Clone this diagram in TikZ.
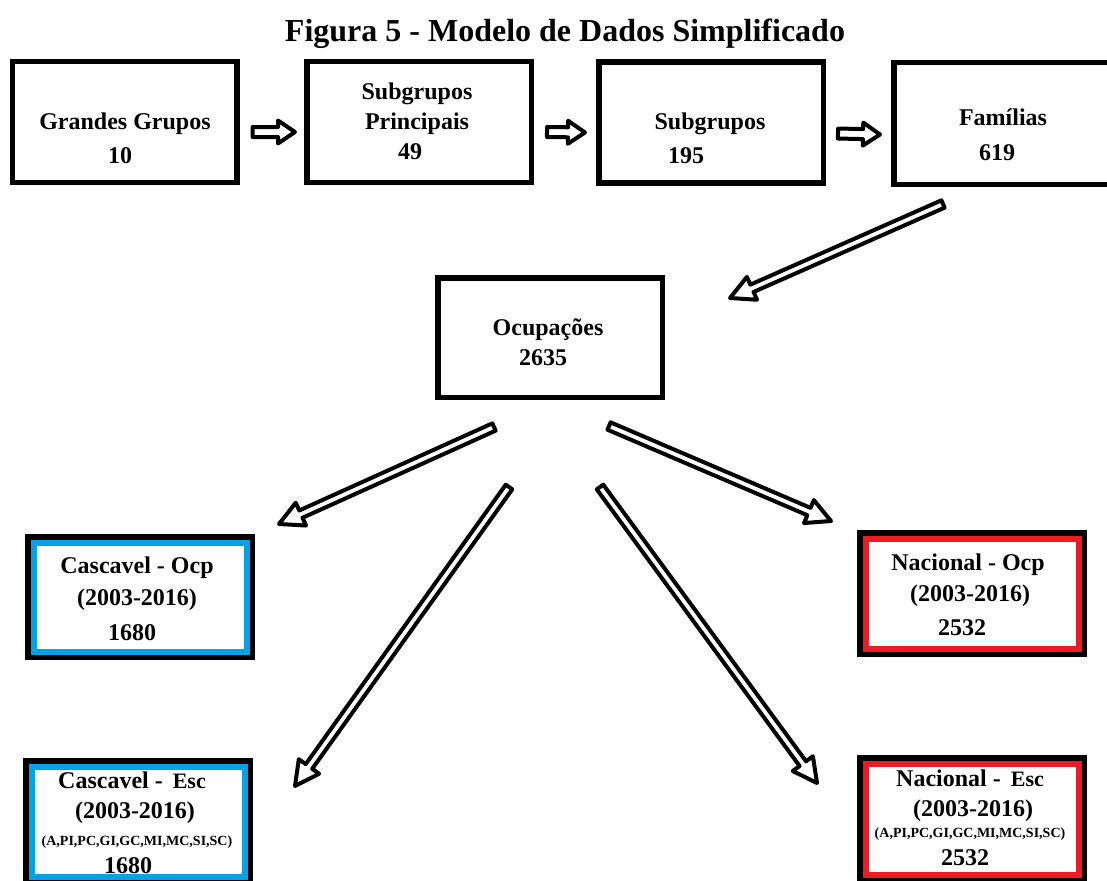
\documentclass[tikz,border=0pt]{standalone}
\usepackage{fontspec}
\setmainfont{Liberation Serif}
\usetikzlibrary{calc}

\definecolor{paintblue}{RGB}{0,162,232}
\definecolor{paintred}{RGB}{237,28,36}

% Slightly smaller type for the "Esc" labels
\newcommand\escfont{\fontsize{22}{26}\selectfont}

% Outlined "hollow" arrow from #2 to #3:
% #4 = half shaft width, #5 = half head width, #6 = head length
\newcommand\hollowarrow[6][harrow]{%
  \coordinate (hb) at ($(#3)!#6!(#2)$);
  \draw[#1]
    ($(#2)!#4!90:(#3)$) --
    ($(hb)!#4!90:(#3)$) --
    ($(hb)!#5!90:(#3)$) --
    (#3) --
    ($(hb)!#5!-90:(#3)$) --
    ($(hb)!#4!-90:(#3)$) --
    ($(#2)!#4!-90:(#3)$) -- cycle;
}

\begin{document}
\begin{tikzpicture}[x=1pt,y=-1pt,
  box/.style={draw=black, line width=5.5pt, fill=white, inner sep=0pt,
              minimum width=224.5pt, minimum height=121pt},
  cbox/.style={box, path picture={
      \draw[line width=6pt, #1]
        ([shift={(5.75pt,-5.75pt)}]path picture bounding box.north west)
        rectangle
        ([shift={(-5.75pt,5.75pt)}]path picture bounding box.south east);}},
  txt/.style={font=\fontsize{24}{28}\selectfont\bfseries, inner sep=0pt, anchor=base},
  small/.style={font=\fontsize{14}{16}\selectfont\bfseries, inner sep=0pt, anchor=base},
  title/.style={font=\fontsize{32}{38}\selectfont\bfseries, inner sep=0pt, anchor=base},
  harrow/.style={draw=black, fill=white, line width=4pt, line join=round},
]
\useasboundingbox (0,0) rectangle (1107,880);
\clip (0,0) rectangle (1107,880);
\fill[white] (0,0) rectangle (1107,880);

% Title
\node[title] (ttl) at (565,42) {Figura 5 - Modelo de Dados Simplificado};

% Upper row of boxes
\node[box, minimum height=120.5pt] (gg)  at (124.5,122)   {};
\node[box, minimum height=120.5pt] (sp)  at (419,122)     {};
\node[box] (sg)  at (711,122.5)   {};
\node[box, minimum height=121.5pt] (fam) at (1006,123.5)  {};

\node[txt] (gg1) at (125,129) {Grandes Grupos};
\node[txt] (gg2) at (120,163) {10};
\node[txt] (sp1) at (417,100) {Subgrupos};
\node[txt] (sp2) at (417,129) {Principais};
\node[txt] (sp3) at (410,159) {49};
\node[txt] (sg1) at (710,129) {Subgrupos};
\node[txt] (sg2) at (686,163) {195};
\node[txt] (fa1) at (1003,125) {Famílias};
\node[txt] (fa2) at (997,160) {619};

% Middle box
\node[box, minimum height=119.5pt] (ocu) at (550,337.5) {};
\node[txt] (oc1) at (548,335) {Ocupações};
\node[txt] (oc2) at (543,365) {2635};

% Lower boxes
\node[cbox=paintblue, minimum height=120.5pt] (co) at (140,597) {};
\node[cbox=paintred,  minimum height=121.5pt] (no) at (972,593.5) {};
\node[cbox=paintblue, minimum height=121.5pt] (ce) at (138,821.5) {};
\node[cbox=paintred,  minimum height=122.5pt] (ne) at (972,819) {};

\node[txt] (co1) at (137,573) {Cascavel - Ocp};
\node[txt] (co2) at (137,605) {(2003-2016)};
\node[txt] (co3) at (132,640) {1680};

\node[txt] (no1) at (968,570) {Nacional - Ocp};
\node[txt] (no2) at (970,601) {(2003-2016)};
\node[txt] (no3) at (962,635) {2532};

\node[txt] (ce1) at (132,788) {Cascavel -\, {\escfont Esc}};
\node[txt] (ce2) at (135,818) {(2003-2016)};
\node[small] (ce3) at (137,845) {(A,PI,PC,GI,GC,MI,MC,SI,SC)};
\node[txt] (ce4) at (128,873) {1680};

\node[txt] (ne1) at (970,786) {Nacional -\, {\escfont Esc}};
\node[txt] (ne2) at (973,816) {(2003-2016)};
\node[small] (ne3) at (970,837) {(A,PI,PC,GI,GC,MI,MC,SI,SC)};
\node[txt] (ne4) at (965,865) {2532};

% Arrows along the upper row
\hollowarrow{$(gg.east)+(13,10)$}{$(sp.west)+(-9,10)$}{5pt}{11.5pt}{17pt}
\hollowarrow{$(sp.east)+(13,10)$}{$(sg.west)+(-11,10)$}{5pt}{11.5pt}{17pt}
\hollowarrow{$(sg.east)+(12,11)$}{$(fam.west)+(-11,11)$}{5pt}{11.5pt}{17pt}

% End points of the long arrows
\coordinate (fa-s) at (943,204);
\coordinate (fa-e) at (730,298);
\coordinate (co-s) at (494,427);
\coordinate (co-e) at (279,524);
\coordinate (ce-s) at (509,487);
\coordinate (ce-e) at (295,786);
\coordinate (no-s) at (609,426);
\coordinate (no-e) at (831,521);
\coordinate (ne-s) at (600,487);
\coordinate (ne-e) at (817,783);

\hollowarrow{fa-s}{fa-e}{4pt}{12.5pt}{24pt}
\hollowarrow{co-s}{co-e}{4pt}{12.5pt}{24pt}
\hollowarrow{ce-s}{ce-e}{4pt}{12.5pt}{24pt}
\hollowarrow{no-s}{no-e}{4pt}{12.5pt}{24pt}
\hollowarrow{ne-s}{ne-e}{4pt}{12.5pt}{24pt}
\end{tikzpicture}
\end{document}
